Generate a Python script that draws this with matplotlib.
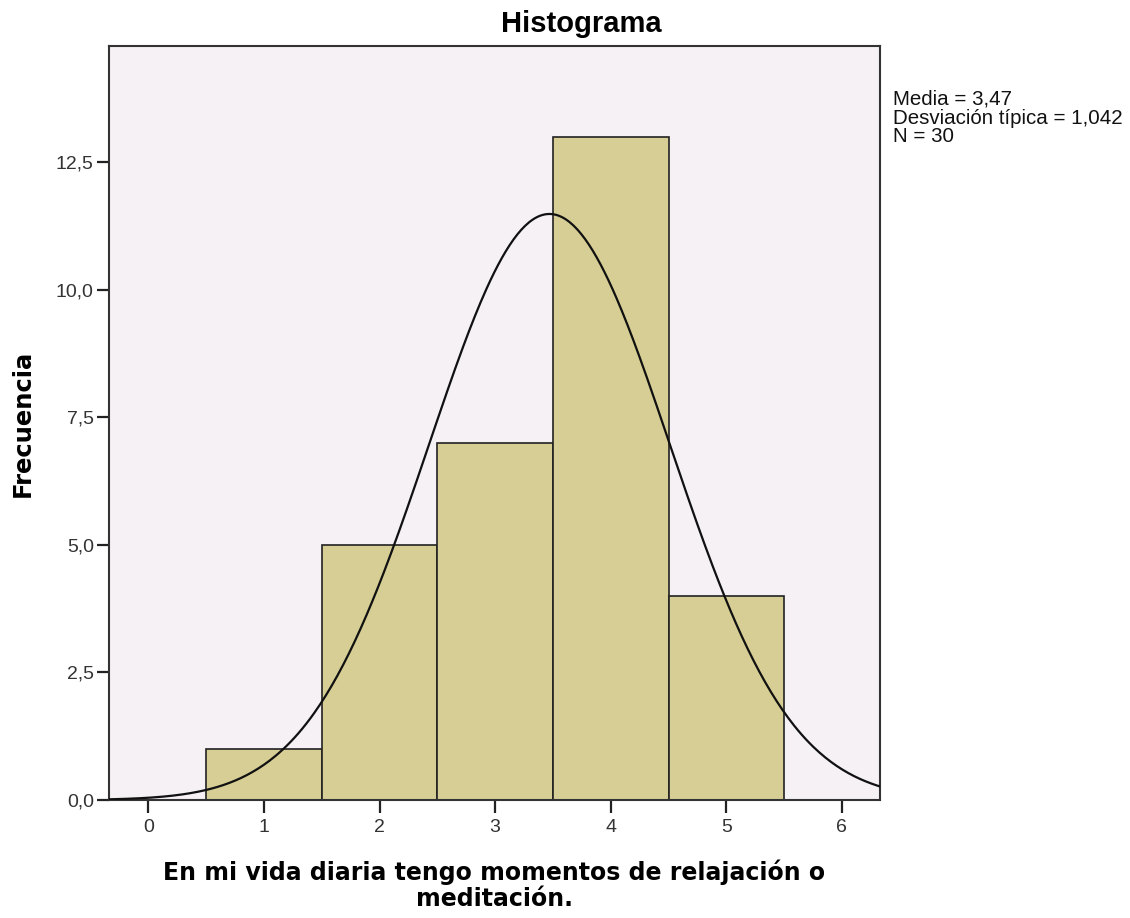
import numpy as np
import matplotlib
matplotlib.use("Agg")
import matplotlib.pyplot as plt
from matplotlib.ticker import FuncFormatter

# Data
bin_centers = [1, 2, 3, 4, 5]
frequencies = [1, 5, 7, 13, 4]
mean_val = 3.47
std_val = 1.042
n_val = 30
y_ticks = [0, 2.5, 5.0, 7.5, 10.0, 12.5]
x_ticks = [0, 1, 2, 3, 4, 5, 6]

plt.rcParams['font.family'] = ['Liberation Sans', 'DejaVu Sans']

fig = plt.figure(figsize=(11.3, 9.18), dpi=100)
ax = fig.add_axes([0.0965, 0.1285, 0.6823, 0.8215])
ax.set_facecolor('#F5F1F5')

ax.bar(bin_centers, frequencies, width=1.0, color='#D6CE94', edgecolor='#222222', linewidth=1.2, zorder=2)

xs = np.linspace(-0.34, 6.34, 400)
ys = n_val * 1.0 / (std_val * np.sqrt(2 * np.pi)) * np.exp(-0.5 * ((xs - mean_val) / std_val) ** 2)
ax.plot(xs, ys, color='#111111', linewidth=1.6, zorder=3)

ax.set_xlim(-0.34, 6.33)
ax.set_ylim(0, 14.78)
ax.set_xticks(x_ticks)
ax.set_yticks(y_ticks)
ax.yaxis.set_major_formatter(FuncFormatter(lambda v, p: f"{v:.1f}".replace('.', ',')))
ax.tick_params(axis='both', direction='out', length=9, width=1.6, colors='#222222',
               labelsize=14, labelcolor='#333333')
ax.tick_params(axis='x', pad=5)
ax.tick_params(axis='y', pad=2)
for s in ax.spines.values():
    s.set_linewidth(1.5)
    s.set_color('#333333')

ax.set_title('Histograma', fontsize=21, fontweight='bold', pad=10, x=0.612)
ax.set_ylabel('Frecuencia', fontsize=17.5, fontweight='bold', family=['DejaVu Sans'])
ax.yaxis.set_label_coords(-0.096, 0.5)
ax.set_xlabel('En mi vida diaria tengo momentos de relajación o\nmeditación.',
              fontsize=17, fontweight='bold', linespacing=1.1,
              family=['DejaVu Sans'])
ax.xaxis.set_label_coords(0.5, -0.0795)

fig.text(0.79, 0.902, f"Media = {mean_val:.2f}".replace('.', ',') + "\n" +
         f"Desviación típica = {std_val:.3f}".replace('.', ',') + "\n" +
         f"N = {n_val}", fontsize=14.8, va='top', ha='left', linespacing=0.97, color='#111111')

fig.savefig('out.png', dpi=100)
